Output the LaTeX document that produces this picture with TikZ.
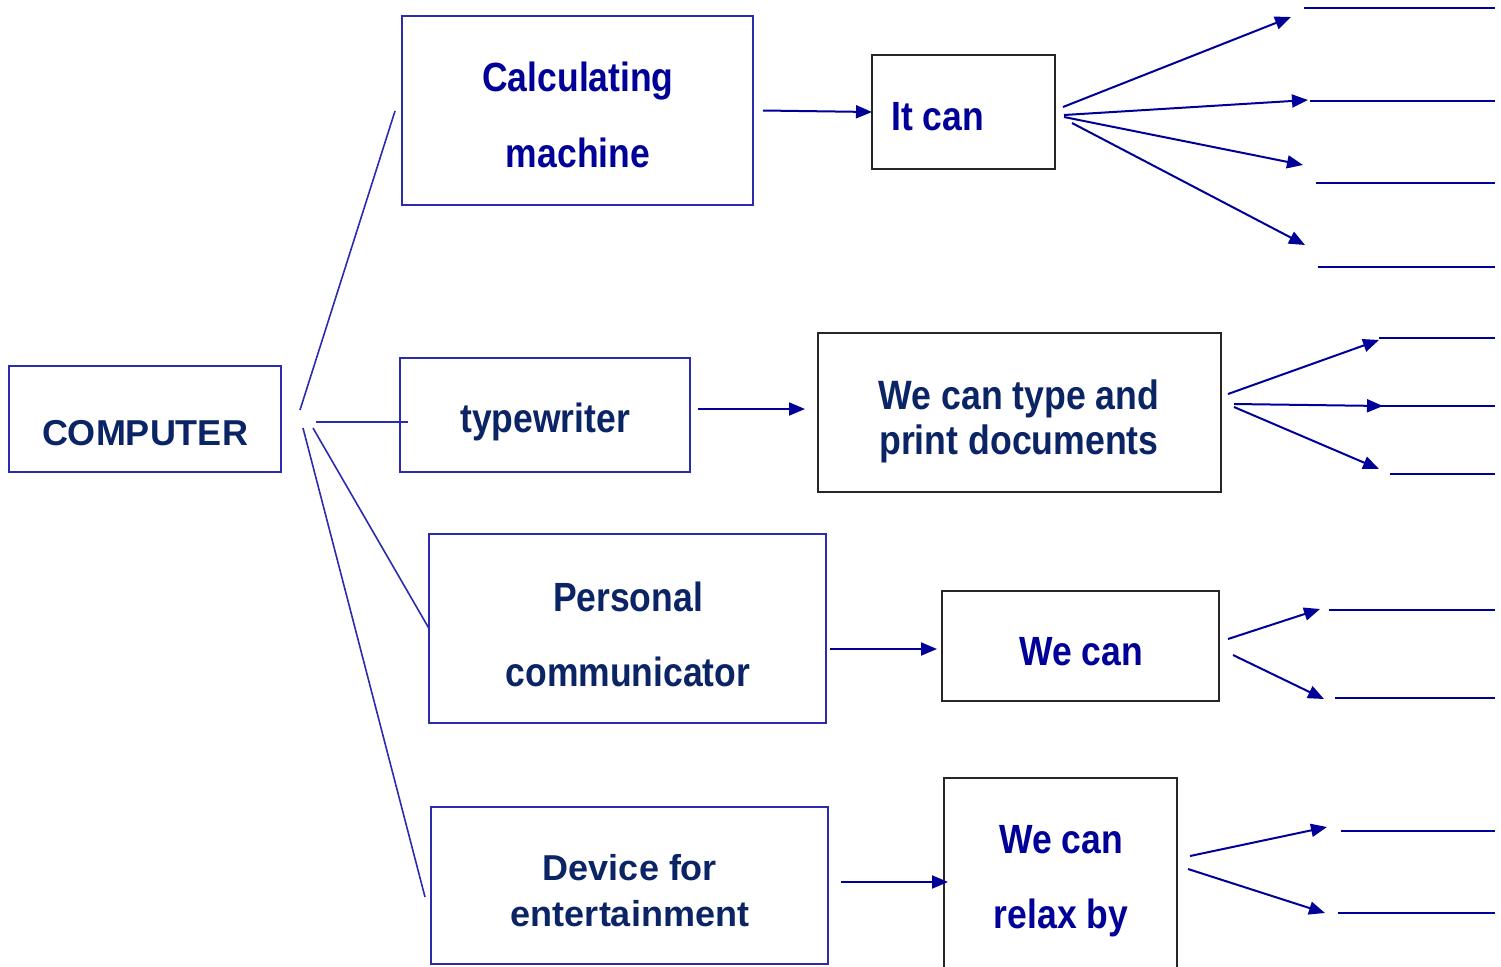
\documentclass[tikz,border=0pt]{standalone}
\usepackage{fontspec}
\setmainfont{Liberation Sans}
\newfontfamily\narrowsans{Liberation Sans}[FakeStretch=0.87]
\usetikzlibrary{arrows.meta}
\definecolor{navytxt}{HTML}{0B2465}
\definecolor{bluetxt}{HTML}{000099}
\definecolor{boxblue}{HTML}{2B2BB0}
\definecolor{arrblue}{HTML}{000099}
\definecolor{boxgray}{HTML}{262626}
\begin{document}
\begin{tikzpicture}[x=0.5pt,y=-0.5pt,
  box/.style={rectangle,inner sep=0pt,outer sep=0pt,line width=1pt},
  bluebox/.style={box,draw=boxblue},
  graybox/.style={box,draw=boxgray},
  widetxt/.style={inner sep=0pt,align=center,text=navytxt,font=\fontsize{18}{23}\selectfont\bfseries},
  narrowtxt/.style={inner sep=0pt,align=center,font=\narrowsans\fontsize{20.4}{38}\selectfont\bfseries},
  navy/.style={text=navytxt},
  blue/.style={text=bluetxt},
  link/.style={draw=boxblue,line width=0.8pt},
  arr/.style={draw=arrblue,line width=1pt,-{Triangle[length=8pt,width=6.5pt]}},
  blank/.style={draw=arrblue,line width=1pt}
]
\useasboundingbox (0,0) rectangle (1501,966);

% boxes
\node[bluebox,minimum width=136pt,minimum height=53pt] (comp) at (145,419) {};
\node[bluebox,minimum width=175.5pt,minimum height=94.5pt] (calc) at (577.5,110.5) {};
\node[graybox,minimum width=91.5pt,minimum height=57pt] (itcan) at (963.5,112) {};
\node[bluebox,minimum width=145pt,minimum height=57pt] (tw) at (545,415) {};
\node[graybox,minimum width=201.5pt,minimum height=79.5pt] (wt) at (1019.5,412.5) {};
\node[bluebox,minimum width=198.5pt,minimum height=94.5pt] (pc) at (627.5,628.5) {};
\node[graybox,minimum width=138.5pt,minimum height=55pt] (wc) at (1080.5,646) {};
\node[bluebox,minimum width=198.5pt,minimum height=78.5pt] (dev) at (629.5,885.5) {};
\node[graybox,minimum width=116.5pt,minimum height=106pt] (relax) at (1060.5,884) {};

% texts
\node[widetxt] (tcomp) at (145,433) {COMPUTER};
\node[narrowtxt,blue] (tcalc) at (578,115) {Calculating\\machine};
\node[narrowtxt,blue] (titcan) at (937.5,117) {It can};
\node[narrowtxt,navy] (ttw) at (545,422) {typewriter};
\node[narrowtxt,navy,font=\narrowsans\fontsize{20.5}{22.5}\selectfont\bfseries] (twt) at (1019,421) {We can type and\\print documents};
\node[narrowtxt,navy,font=\narrowsans\fontsize{20.4}{37.5}\selectfont\bfseries] (tpc) at (628,634) {Personal\\communicator};
\node[narrowtxt,blue] (twc) at (1081,652) {We can};
\node[widetxt] (tdev) at (630,891) {Device for\\entertainment};
\node[narrowtxt,blue,font=\narrowsans\fontsize{20.4}{37.5}\selectfont\bfseries] (trelax) at (1061,881) {We can\\relax by};

% connectors from COMPUTER
\draw[link] ([shift={(19,-9)}]comp.east) -- ([shift={(-7,0.5)}]calc.west);
\draw[link] ([shift={(35,3)}]comp.east) -- ([shift={(8,7)}]tw.west);
\draw[link] ([shift={(32,9)}]comp.east) -- (pc.west);
\draw[link] ([shift={(22,9)}]comp.east) -- ([shift={(-6,11.5)}]dev.west);

% horizontal arrows
\draw[arr] ([shift={(10,0)}]calc.east) -- (itcan.west);
\draw[arr] ([shift={(8,-6)}]tw.east) -- ([shift={(-13,-3.5)}]wt.west);
\draw[arr] ([shift={(4,20.5)}]pc.east) -- ([shift={(-5,3)}]wc.west);
\draw[arr] ([shift={(13,-3.5)}]dev.east) -- ([shift={(4,-2)}]relax.west);

% fan from "It can"
\coordinate (f1) at (1291,17);
\coordinate (f2) at (1308,100);
\coordinate (f3) at (1303,165);
\coordinate (f4) at (1305,245);
\draw[arr] ([shift={(8,-5)}]itcan.east) -- (f1);
\draw[arr] ([shift={(9,3)}]itcan.east) -- (f2);
\draw[arr] ([shift={(9,5)}]itcan.east) -- (f3);
\draw[arr] ([shift={(17,11)}]itcan.east) -- (f4);
\coordinate (l1a) at (1304,8);   \coordinate (l1b) at (1495,8);
\coordinate (l2a) at (1310,101); \coordinate (l2b) at (1495,101);
\coordinate (l3a) at (1316,183); \coordinate (l3b) at (1495,183);
\coordinate (l4a) at (1318,267); \coordinate (l4b) at (1495,267);
\draw[blank] (l1a) -- (l1b);
\draw[blank] (l2a) -- (l2b);
\draw[blank] (l3a) -- (l3b);
\draw[blank] (l4a) -- (l4b);

% fan from "We can type and print documents"
\coordinate (g1) at (1379,340);
\coordinate (g2) at (1383,406);
\coordinate (g3) at (1379,469);
\draw[arr] ([shift={(7,-18.5)}]wt.east) -- (g1);
\draw[arr] ([shift={(13,-8.5)}]wt.east) -- (g2);
\draw[arr] ([shift={(13,-5.5)}]wt.east) -- (g3);
\coordinate (m1a) at (1379,338); \coordinate (m1b) at (1495,338);
\coordinate (m2a) at (1380,406); \coordinate (m2b) at (1495,406);
\coordinate (m3a) at (1390,474); \coordinate (m3b) at (1495,474);
\draw[blank] (m1a) -- (m1b);
\draw[blank] (m2a) -- (m2b);
\draw[blank] (m3a) -- (m3b);

% fan from "We can"
\coordinate (h1) at (1320,609);
\coordinate (h2) at (1324,699);
\draw[arr] ([shift={(9,-7)}]wc.east) -- (h1);
\draw[arr] ([shift={(14,9)}]wc.east) -- (h2);
\coordinate (n1a) at (1329,610); \coordinate (n1b) at (1495,610);
\coordinate (n2a) at (1335,698); \coordinate (n2b) at (1495,698);
\draw[blank] (n1a) -- (n1b);
\draw[blank] (n2a) -- (n2b);

% fan from "We can relax by"
\coordinate (k1) at (1327,827);
\coordinate (k2) at (1325,913);
\draw[arr] ([shift={(13,-28)}]relax.east) -- (k1);
\draw[arr] ([shift={(11,-15)}]relax.east) -- (k2);
\coordinate (o1a) at (1341,831); \coordinate (o1b) at (1495,831);
\coordinate (o2a) at (1338,913); \coordinate (o2b) at (1495,913);
\draw[blank] (o1a) -- (o1b);
\draw[blank] (o2a) -- (o2b);
\end{tikzpicture}
\end{document}
